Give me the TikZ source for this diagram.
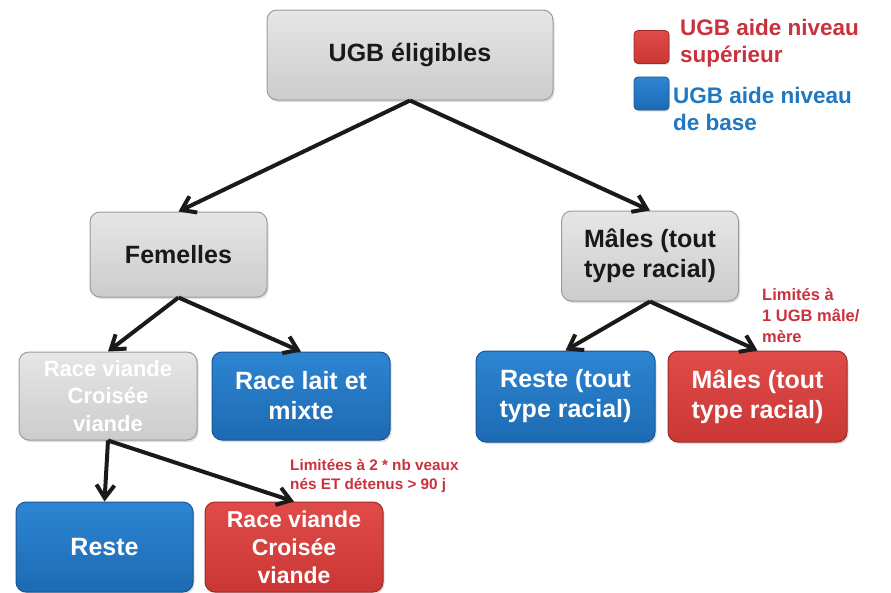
\documentclass[tikz,border=0pt]{standalone}
\usepackage{fontspec}
\setmainfont{Liberation Sans}
\usetikzlibrary{arrows.meta,shadows}
\definecolor{gfill}{HTML}{DADADA}
\definecolor{gtop}{HTML}{E6E6E6}
\definecolor{gbot}{HTML}{CCCCCC}
\definecolor{gdraw}{HTML}{9C9C9C}
\definecolor{bfill}{HTML}{2579C5}
\definecolor{btop}{HTML}{2D85D2}
\definecolor{bbot}{HTML}{1D6AB3}
\definecolor{bdraw}{HTML}{1A5694}
\definecolor{rtop}{HTML}{E04B48}
\definecolor{rbot}{HTML}{C93734}
\definecolor{rdraw}{HTML}{9A2B2A}
\definecolor{rtext}{HTML}{C9323D}
\definecolor{btext}{HTML}{1F78C1}
\definecolor{arr}{HTML}{1A1A1A}
\tikzset{
  box/.style={rounded corners=10pt, line width=1pt, align=center, inner sep=0pt,
    font=\fontsize{25}{30}\selectfont\bfseries,
    drop shadow={opacity=0.25, shadow xshift=1.5pt, shadow yshift=-2pt}},
  greybox/.style={box, draw=gdraw, top color=gtop, bottom color=gbot, text=black!90},
  bluebox/.style={box, draw=bdraw, top color=btop, bottom color=bbot, text=white},
  redbox/.style={box, draw=rdraw, top color=rtop, bottom color=rbot, text=white},
  conn/.style={draw=arr, line width=4pt, -{Straight Barb[length=13pt,width=18pt,line width=4pt]}},
  legsq/.style={rounded corners=4pt, line width=0.8pt, minimum width=35pt, minimum height=33pt, inner sep=0pt,
    drop shadow={opacity=0.25, shadow xshift=1pt, shadow yshift=-1.5pt}},
  note/.style={align=left, anchor=west, inner sep=0pt, text=rtext}
}
\begin{document}
\begin{tikzpicture}[x=1pt,y=-1pt]
\useasboundingbox (0,0) rectangle (891,592);
% boxes
\node[greybox, minimum width=286pt, minimum height=90pt] (ugb) at (410,55) {UGB éligibles};
\node[greybox, minimum width=177pt, minimum height=85pt] (fem) at (178.5,254.5) {Femelles};
\node[greybox, minimum width=177pt, minimum height=90pt] (male) at (650,256) {Mâles (tout\\type racial)};
\node[greybox, minimum width=178pt, minimum height=88pt, text=white, font=\fontsize{22}{27.5}\selectfont\bfseries] (rv) at (108,396) {Race viande\\Croisée\\viande};
\node[bluebox, minimum width=178pt, minimum height=88pt] (rl) at (301,396) {Race lait et\\mixte};
\node[bluebox, minimum width=179pt, minimum height=91pt] (reste1) at (565.5,396.5) {Reste (tout\\type racial)};
\node[redbox, minimum width=179pt, minimum height=91pt] (males2) at (757.5,396.5) {Mâles (tout\\type racial)};
\node[bluebox, minimum width=177pt, minimum height=90pt] (reste2) at (104.5,547) {Reste};
\node[redbox, minimum width=178pt, minimum height=90pt, font=\fontsize{23}{28}\selectfont\bfseries] (rv2) at (294,547) {Race viande\\Croisée\\viande};
% arrows
\draw[conn] (ugb.south) -- (fem.north);
\draw[conn] (ugb.south) -- (male.north);
\draw[conn] (fem.south) -- (rv.north);
\draw[conn] (fem.south) -- (rl.north);
\draw[conn] (male.south) -- (reste1.north);
\draw[conn] (male.south) -- (males2.north);
\draw[conn] (rv.south) -- (reste2.north);
\draw[conn] (rv.south) -- (rv2.north);
% legend
\node[legsq, draw=rdraw, top color=rtop, bottom color=rbot] (lr) at (651.5,47) {};
\node[legsq, draw=bdraw, top color=btop, bottom color=bbot] (lb) at (651.5,93.5) {};
\node[note, font=\fontsize{22.5}{27}\selectfont\bfseries] (lrt) at (680,43) {UGB aide niveau\\supérieur};
\node[note, text=btext, font=\fontsize{22.5}{27}\selectfont\bfseries] (lbt) at (673,109) {UGB aide niveau\\de base};
% notes
\node[note, font=\fontsize{16.5}{21}\selectfont\bfseries] (n1) at (762,316) {Limités à\\1 UGB mâle/\\mère};
\node[note, font=\fontsize{15.3}{19}\selectfont\bfseries] (n2) at (290,476) {Limitées à 2 * nb veaux\\nés ET détenus > 90 j};
\end{tikzpicture}
\end{document}
